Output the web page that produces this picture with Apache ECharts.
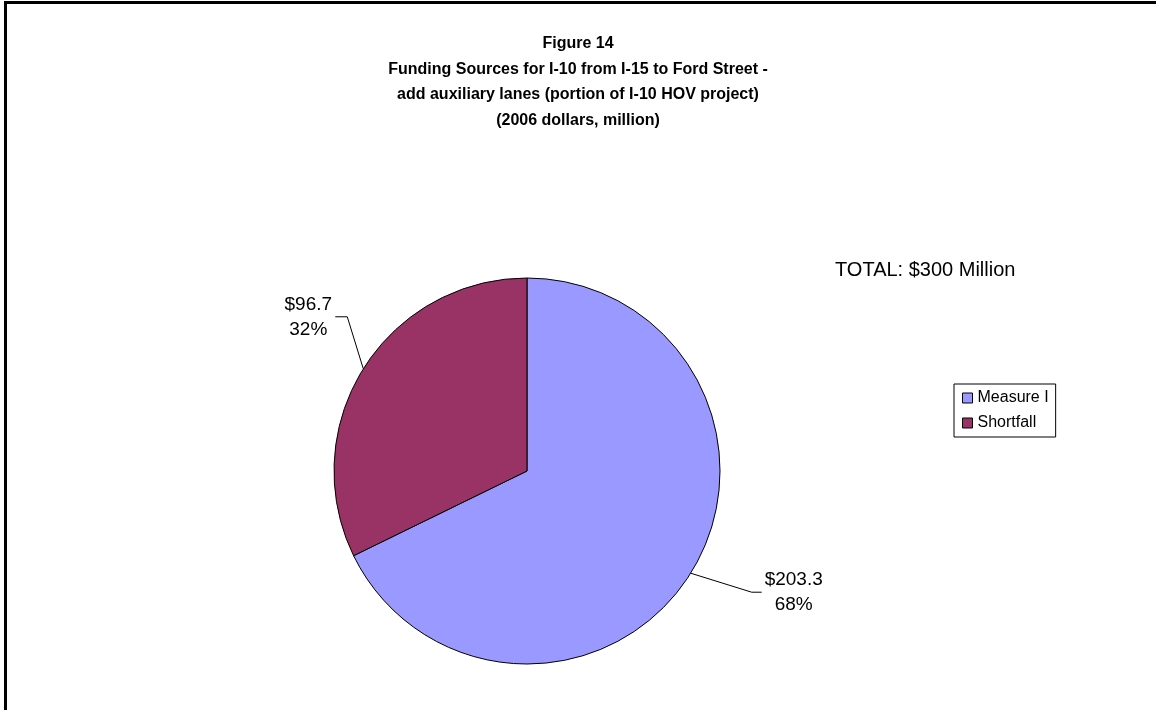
<!DOCTYPE html>
<html>
<head>
<meta charset="utf-8">
<script src="https://cdn.jsdelivr.net/npm/echarts@6/dist/echarts.min.js"></script>
<style>
  html, body { margin: 0; padding: 0; background: #fff; }
  #wrap { position: relative; width: 1156px; height: 710px; overflow: hidden; }
  #chart { position: absolute; left: 0; top: 0; width: 1156px; height: 710px; }
  #frame { position: absolute; left: 4px; top: 1px; width: 1160px; height: 720px;
           border-left: 3px solid #000; border-top: 3px solid #000; pointer-events: none; }
</style>
</head>
<body>
<div id="wrap"><div id="chart"></div><div id="frame"></div></div>
<script>
const titleLines = [
  'Figure 14',
  'Funding Sources for I-10 from I-15 to Ford Street -',
  'add auxiliary lanes (portion of I-10 HOV project)',
  '(2006 dollars, million)'
];
const totalText = 'TOTAL: $300 Million';
const categories = ['Measure I', 'Shortfall'];
const values = [203.3, 96.7];
const colors = ['#9999FF', '#993366'];

const FONT = 'Arial, "Liberation Sans", Helvetica, sans-serif';
const chart = echarts.init(document.getElementById('chart'), null, { renderer: 'canvas' });

const data = categories.map((c, i) => ({ name: c, value: values[i], itemStyle: { color: colors[i] } }));

chart.setOption({
  animation: false,
  backgroundColor: '#ffffff',
  title: [
    {
      text: titleLines.join('\n'),
      left: 'center',
      top: 31,
      padding: 0,
      textStyle: { fontFamily: FONT, fontSize: 16, fontWeight: 'bold', color: '#000', lineHeight: 25.5 }
    },
    {
      text: totalText,
      left: 835,
      top: 258,
      padding: 0,
      textStyle: { fontFamily: FONT, fontSize: 20, fontWeight: 'normal', color: '#000', lineHeight: 24 }
    }
  ],
  legend: {
    orient: 'vertical',
    left: 954,
    top: 384,
    padding: [5, 7, 5, 8],
    borderColor: '#000',
    borderWidth: 1,
    itemWidth: 10,
    itemHeight: 10,
    itemGap: 7,
    itemTextGap: 5,
    icon: 'rect',
    data: categories,
    textStyle: { fontFamily: FONT, fontSize: 16, color: '#000', lineHeight: 18 },
    itemStyle: { borderColor: '#000', borderWidth: 1 }
  },
  series: [{
    type: 'pie',
    center: [527, 471],
    radius: 193,
    startAngle: 90,
    clockwise: true,
    avoidLabelOverlap: false,
    data: data,
    itemStyle: { borderColor: '#000', borderWidth: 1 },
    emphasis: { disabled: true },
    label: {
      show: true,
      position: 'outside',
      fontFamily: FONT,
      fontSize: 19,
      color: '#000',
      lineHeight: 25,
      align: 'center',
      formatter: p => '$' + p.value + '\n' + Math.round(p.percent) + '%'
    },
    labelLine: {
      show: true,
      smooth: false,
      length: 40,
      length2: 10,
      lineStyle: { color: '#000', width: 1 }
    },
    labelLayout: function (params) {
      const p0 = params.labelLinePoints ? params.labelLinePoints[0] : null;
      if (!p0) return {};
      if (params.dataIndex === 1) {
        const p1 = [p0[0] - 16, p0[1] - 52];
        const p2 = [p1[0] - 12, p1[1]];
        return { x: p2[0] - 27, y: p2[1], align: 'center', verticalAlign: 'middle', labelLinePoints: [p0, p1, p2] };
      } else {
        const p1 = [p0[0] + 61, p0[1] + 19];
        const p2 = [p1[0] + 10, p1[1]];
        return { x: p2[0] + 32, y: p2[1], align: 'center', verticalAlign: 'middle', labelLinePoints: [p0, p1, p2] };
      }
    }
  }]
});
</script>
</body>
</html>
